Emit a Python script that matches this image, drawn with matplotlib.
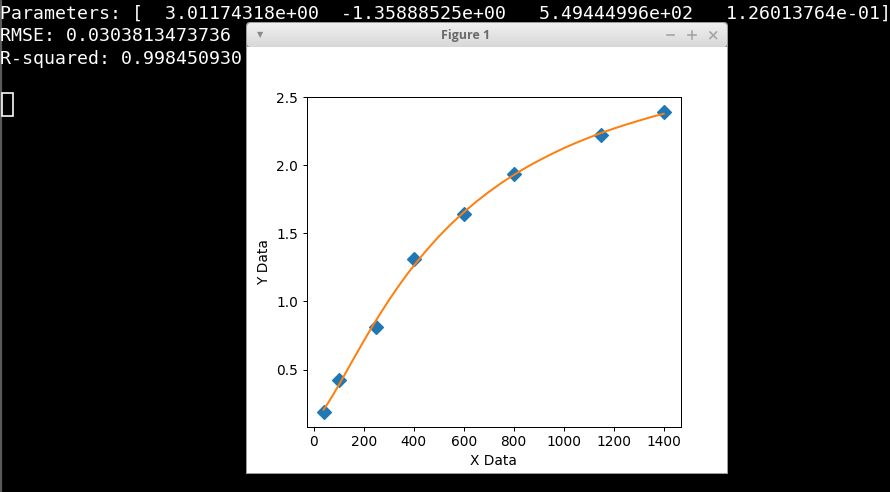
import matplotlib
matplotlib.use('Agg')
import matplotlib.pyplot as plt
from matplotlib.patches import Rectangle, FancyBboxPatch
import numpy as np

# terminal output printed before the plot window opened
term_lines = [
    'Parameters: [  3.01174318e+00  -1.35888525e+00   5.49444996e+02   1.26013764e-01]',
    'RMSE: 0.0303813473736',
    'R-squared: 0.998450930',
]

# measured points
x_data = [40, 100, 250, 400, 600, 800, 1150, 1400]
y_data = [0.19, 0.425, 0.815, 1.31, 1.645, 1.94, 2.22, 2.39]

# fitted curve
fit_x = [40, 50, 60, 70, 80, 90, 100, 125, 150, 175, 200, 225, 250, 275, 300,
         325, 350, 375, 400, 450, 500, 550, 600, 650, 700, 750, 800, 850, 900,
         950, 1000, 1050, 1100, 1150, 1200, 1250, 1300, 1350, 1400]
fit_y = [0.206, 0.233, 0.262, 0.292, 0.322, 0.354, 0.385, 0.466, 0.548, 0.629,
         0.709, 0.787, 0.863, 0.936, 1.007, 1.075, 1.140, 1.203, 1.262, 1.374,
         1.477, 1.570, 1.655, 1.733, 1.804, 1.870, 1.929, 1.985, 2.035, 2.082,
         2.126, 2.166, 2.203, 2.238, 2.270, 2.300, 2.328, 2.355, 2.379]

W, H, DPI = 890, 492, 90


def draw_screen(fig):
    bg = fig.add_axes([0, 0, 1, 1])
    bg.set_xlim(0, W)
    bg.set_ylim(H, 0)
    bg.axis('off')
    bg.add_patch(Rectangle((0, 0), W, H, color='black', zorder=0))
    bg.add_patch(Rectangle((0, 0), 1.2, H, color='#5a5a5a', zorder=1))

    baselines = [18.5, 41, 64]
    for line, yb in zip(term_lines, baselines):
        bg.text(0.5, yb, line, color='white', family='DejaVu Sans Mono',
                fontsize=14.6, va='baseline', ha='left', zorder=2)
    # cursor
    bg.add_patch(Rectangle((2, 92.5), 11, 23.5, fill=False, ec='white', lw=1.3, zorder=2))

    # window frame
    wl, wr, wt, wb = 246, 728, 22, 474
    bg.add_patch(Rectangle((wl, wt + 4), wr - wl, wb - wt - 4, fc='#9c9c9c', ec='none', zorder=3))
    bg.add_patch(FancyBboxPatch((wl, wt), wr - wl, 20, boxstyle='round,pad=0,rounding_size=4',
                                fc='#9c9c9c', ec='none', zorder=3))
    grad = np.linspace(0, 1, 50).reshape(-1, 1)
    bar = FancyBboxPatch((wl + 1, wt + 1), wr - wl - 2, 24, boxstyle='round,pad=0,rounding_size=4',
                         fc='none', ec='none', zorder=4)
    bg.add_patch(bar)
    im = bg.imshow(grad, cmap=matplotlib.colors.LinearSegmentedColormap.from_list(
        'tb', ['#f0f0f0', '#d8d8d8']), extent=(wl + 1, wr - 1, wt + 25, wt + 1),
        aspect='auto', zorder=4, interpolation='bilinear')
    im.set_clip_path(bar)
    bg.add_patch(Rectangle((wl + 1, 47), wr - wl - 2, wb - 47 - 1, fc='white', ec='none', zorder=5))

    bg.text(465.5, 35.5, 'Figure 1', color='#6a6a6a', family='Open Sans', fontweight='bold',
            fontsize=10, ha='center', va='center', zorder=6)
    bg.text(260, 35, '\u25bc', color='#8a8a8a', family='DejaVu Sans', fontsize=6.5,
            ha='center', va='center', zorder=6)
    ctl = dict(color='#a4a4a4', lw=1.3, zorder=6)
    bg.plot([666.5, 673.5], [35, 35], **ctl)
    bg.plot([688, 695.5], [35, 35], **ctl)
    bg.plot([691.7, 691.7], [31.3, 38.7], **ctl)
    bg.plot([710, 716.5], [32, 38.5], **ctl)
    bg.plot([710, 716.5], [38.5, 32], **ctl)


def main():
    plt.rcParams['font.size'] = 11
    fig = plt.figure(figsize=(W / DPI, H / DPI), dpi=DPI)
    draw_screen(fig)

    ax = fig.add_axes([306.7 / W, 1 - 426.7 / H, (680.7 - 306.7) / W, (426.7 - 97.3) / H])
    ax.plot(x_data, y_data, 'D', markersize=8)
    ax.plot(fit_x, fit_y, linewidth=1.6)
    ax.set_xlabel('X Data')
    ax.set_ylabel('Y Data')

    fig.savefig('out.png', dpi=DPI)


if __name__ == '__main__':
    main()
